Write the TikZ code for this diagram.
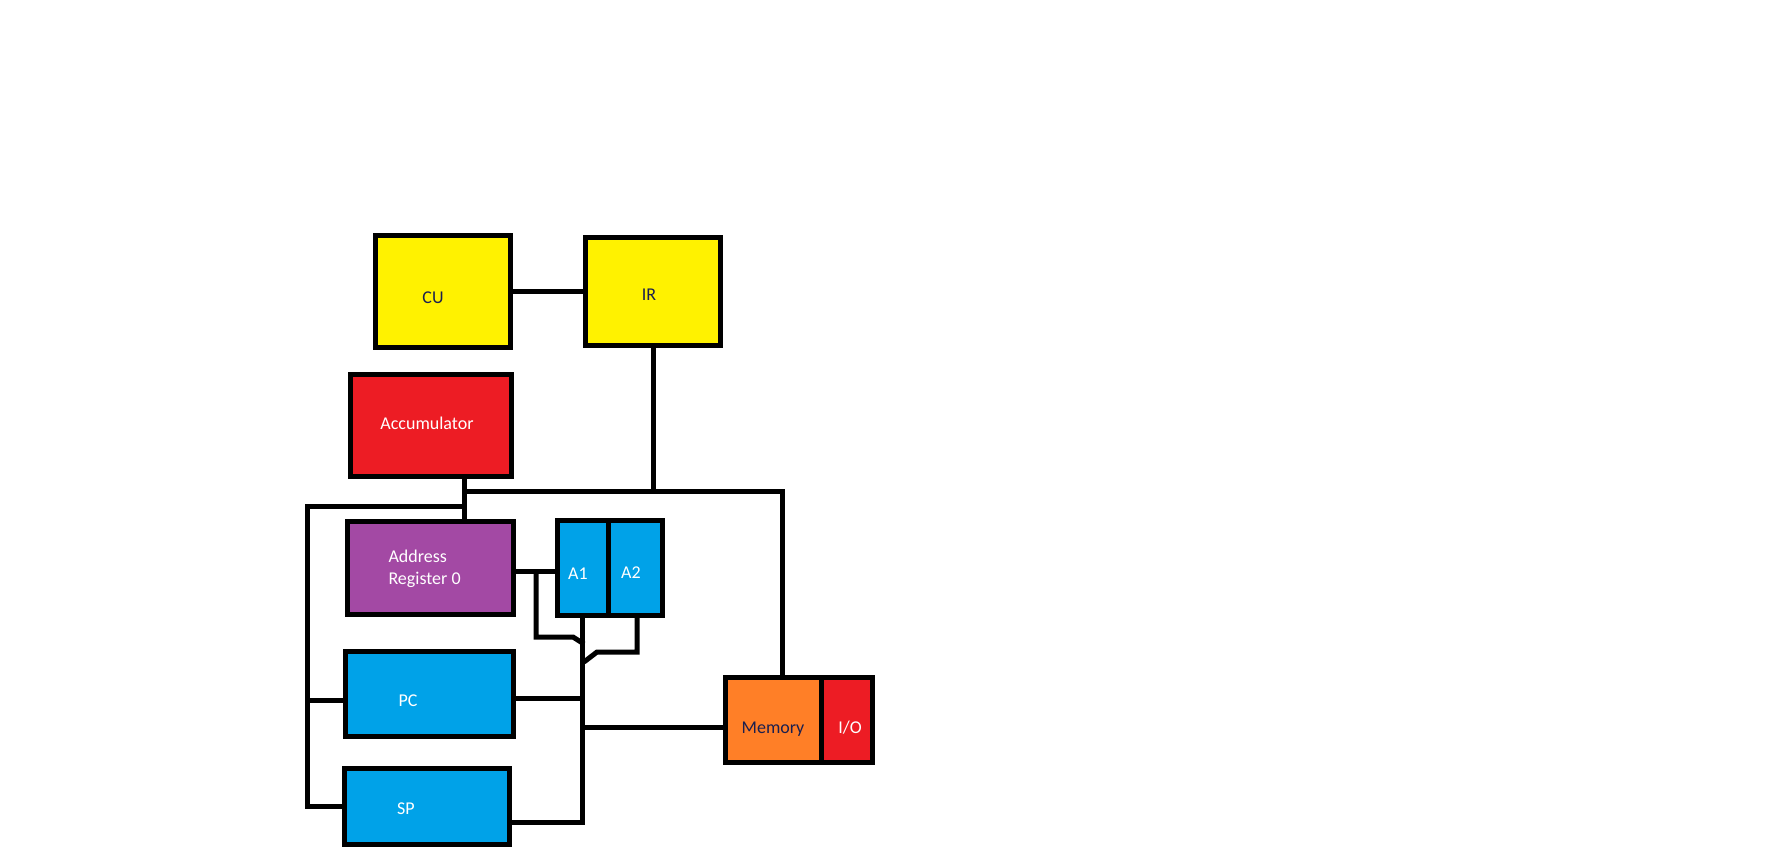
\documentclass[tikz,border=0pt]{standalone}
\usepackage{fontspec}
\setmainfont{Carlito}
\usepackage{tikz}
\usetikzlibrary{calc}

\definecolor{pyellow}{HTML}{FFF200}
\definecolor{pred}{HTML}{ED1C24}
\definecolor{ppurple}{HTML}{A349A4}
\definecolor{pblue}{HTML}{00A2E8}
\definecolor{porange}{HTML}{FF7F27}
\definecolor{pnavy}{HTML}{1A1F4F}

\begin{document}
\begin{tikzpicture}[x=1pt, y=-1pt, line width=5pt,
    box/.style={draw=black, rectangle, inner sep=0pt, line width=5pt},
    txt/.style={font=\fontsize{18}{22}\selectfont, anchor=base, inner sep=0pt}]
    \useasboundingbox (0,0) rectangle (1787,865);

    \node (CU) [box, fill=pyellow, minimum width=135pt, minimum height=112pt] at (443,291.5) {};
    \node (IR) [box, fill=pyellow, minimum width=135pt, minimum height=108pt] at (653,291.5) {};
    \node (Acc) [box, fill=pred, minimum width=161pt, minimum height=102pt] at (431,425.5) {};
    \node (AR) [box, fill=ppurple, minimum width=166pt, minimum height=93pt] at (430.5,568) {};
    \node (A1) [box, fill=pblue, minimum width=50.5pt, minimum height=95pt] at (582.75,568) {};
    \node (A2) [box, fill=pblue, minimum width=54.5pt, minimum height=95pt] at (635.25,568) {};
    \node (PC) [box, fill=pblue, minimum width=168pt, minimum height=85pt] at (429.5,694) {};
    \node (SP) [box, fill=pblue, minimum width=165pt, minimum height=76pt] at (427,806.5) {};
    \node (Mem) [box, fill=porange, minimum width=95.5pt, minimum height=85pt] at (773.25,720) {};
    \node (IO) [box, fill=pred, minimum width=51.5pt, minimum height=85pt] at (846.75,720) {};

    \node (cuT) [txt, pnavy] at (433,303) {CU};
    \node (irT) [txt, pnavy] at (649,300) {IR};
    \node (accT) [txt, white] at (427,429) {Accumulator};
    \node (arT) [txt, white, anchor=west, align=left] at (386,569) {Address\\Register 0};
    \node (a1T) [txt, white] at (578,579) {A1};
    \node (a2T) [txt, white] at (631,578) {A2};
    \node (pcT) [txt, white] at (408,706) {PC};
    \node (spT) [txt, white] at (406,814) {SP};
    \node (memT) [txt, pnavy] at (773,733) {Memory};
    \node (ioT) [txt, white] at (850,733) {I/O};

    % top bus
    \coordinate (busL) at (464,491);
    \coordinate (busR) at (782,491);
    \draw (CU.east) -- (IR.west);
    \draw (IR.south) -- (IR.south |- busL);
    \draw (busL) -- (busR) -- (busR |- Mem.north);
    \draw (Acc.south -| busL) -- (AR.north -| busL);

    % left bus
    \coordinate (lbT) at (307,506);
    \coordinate (lbE) at (466,506);
    \draw (lbE) -- (lbT) -- (lbT |- SP.west) -- (SP.west);
    \draw ($(PC.west)+(0,6)$) -- ($(PC.west -| lbT)+(0,6)$);

    % address bus
    \coordinate (brA) at (536,637);
    \coordinate (brB) at (573,637);
    \coordinate (brC) at (584,644);
    \coordinate (a2A) at (637,652);
    \coordinate (a2B) at (597,652);
    \coordinate (a2C) at (584,662);
    \coordinate (busB) at (583,822);
    \coordinate (memJ) at (583,727);
    \draw ($(AR.east)+(0,3)$) -- ($(A1.west)+(0,3)$);
    \draw ($(AR.east -| brA)+(0,3)$) -- (brA) -- (brB) -- (brC);
    \draw (A2.south -| a2A) -- (a2A) -- (a2B) -- (a2C);
    \draw (A1.south) -- (A1.south |- busB) -- (SP.east |- busB);
    \draw ($(PC.east)+(0,4)$) -- ($(PC.east -| busB)+(0,4)$);
    \draw (memJ) -- (memJ -| Mem.west);
\end{tikzpicture}
\end{document}
